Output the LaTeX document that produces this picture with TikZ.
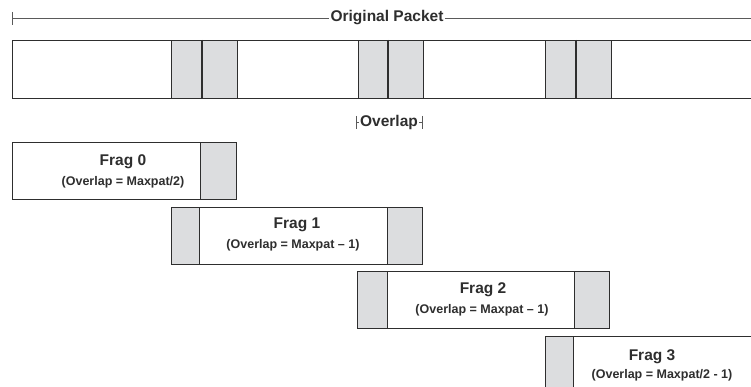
\documentclass[tikz,border=0pt]{standalone}
\usepackage{fontspec}
\setmainfont{Liberation Sans}
\usetikzlibrary{positioning, calc}
\definecolor{cline}{HTML}{2E2E2E}
\definecolor{cshade}{HTML}{DCDDDF}
\definecolor{cgrey}{HTML}{5A5A5A}
\tikzset{
  every picture/.style={font=\bfseries, line width=0.9pt},
  box/.style={draw=cline, fill=white, inner sep=0pt, anchor=north west, minimum height=#1},
  box/.default=57pt,
  shade/.style={draw=cline, fill=cshade},
  divider/.style={draw=cline, line width=2.6pt},
  dim/.style={draw=cgrey, line width=0.8pt},
  bigtext/.style={font=\bfseries\fontsize{15.5}{18}\selectfont, text=cline, inner sep=1pt},
  note/.style={font=\bfseries\fontsize{12.5}{15}\selectfont, text=cline, inner sep=1pt},
}

\begin{document}
\begin{tikzpicture}[x=1pt, y=-1pt]
  \useasboundingbox (0,0) rectangle (751,387);
  \clip (0,0) rectangle (751,387);
  % original packet with its three overlap zones
  \node[bigtext, fill=white] (orig) at (387,18) {Original Packet};
  \draw[dim] (12,12) -- (12,25);
  \draw[dim] (12,18) -- (orig.west);
  \draw[dim] (orig.east) -- (780,18);
  \node[box=58pt, minimum width=780pt] (packet) at (12,40) {};
  \foreach \a/\m/\b in {171/202/237, 358/388/423, 545/576/611} {
    \draw[shade] (\a,40) rectangle (\b,98);
    \draw[divider] (\m,40) -- (\m,98);
  }
  \node[bigtext] (overlap) at (389,122.5) {Overlap};
  \draw[dim] (356.5,116) -- (356.5,129);
  \draw[dim] (422,116) -- (422,129);
  \draw[dim] (356.5,122.5) -- (overlap.west);
  \draw[dim] (overlap.east) -- (422,122.5);
  % fragments
  \node[box, minimum width=224pt] (frag0) at (12,142) {};
  \draw[shade] ([xshift=-36pt]frag0.north east) rectangle (frag0.south east);
  \node[bigtext] (title0) at (123,162) {Frag 0};
  \node[note] (note0) at (123,182) {(Overlap = Maxpat/2)};

  \node[box, minimum width=251pt] (frag1) at (171,207) {};
  \draw[shade] (frag1.north west) rectangle ([xshift=28pt]frag1.south west);
  \draw[shade] ([xshift=-35pt]frag1.north east) rectangle (frag1.south east);
  \node[bigtext] (title1) at (297,225) {Frag 1};
  \node[note] (note1) at (293,245) {(Overlap = Maxpat – 1)};

  \node[box, minimum width=252pt] (frag2) at (357,271) {};
  \draw[shade] (frag2.north west) rectangle ([xshift=30pt]frag2.south west);
  \draw[shade] ([xshift=-35pt]frag2.north east) rectangle (frag2.south east);
  \node[bigtext] (title2) at (483,290) {Frag 2};
  \node[note] (note2) at (482,310) {(Overlap = Maxpat – 1)};

  \node[box, minimum width=260pt] (frag3) at (545,336) {};
  \draw[shade] (frag3.north west) rectangle ([xshift=28pt]frag3.south west);
  \node[bigtext] (title3) at (652,357) {Frag 3};
  \node[note] (note3) at (662,375) {(Overlap = Maxpat/2 - 1)};
\end{tikzpicture}
\end{document}
